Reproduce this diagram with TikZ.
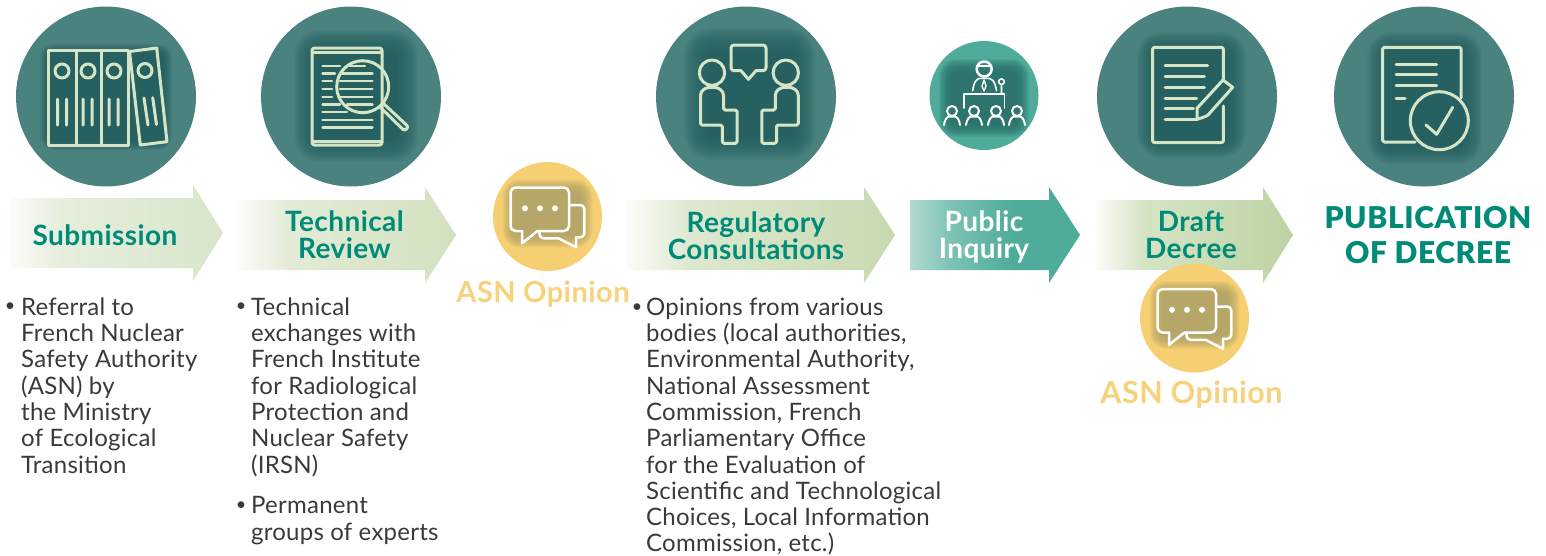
\documentclass[tikz,border=0pt]{standalone}
\usepackage{fontspec}
\setmainfont{Lato}
\newfontfamily\bodyf[LetterSpace=1]{Lato}
\newfontfamily\titlef[LetterSpace=1.5]{Lato}
\newfontfamily\heavyf[LetterSpace=2]{Lato Black}
\definecolor{tealc}{HTML}{4A827F}
\definecolor{tealh}{HTML}{235E5F}
\definecolor{pubc}{HTML}{4FAC9A}
\definecolor{pubh}{HTML}{2A6E68}
\definecolor{yel}{HTML}{F6CF72}
\definecolor{yelh}{HTML}{AFA468}
\definecolor{iconc}{HTML}{D5E5C5}
\definecolor{titlec}{HTML}{008A78}
\definecolor{yeltext}{HTML}{F6D27C}
\definecolor{bodyc}{HTML}{3A3A3A}
\definecolor{startF}{HTML}{FBFCF9}
\definecolor{midA}{HTML}{E6EEDC}\definecolor{endA}{HTML}{D8E5CB}
\definecolor{midB}{HTML}{E2EBD6}\definecolor{endB}{HTML}{D3E1C0}
\definecolor{midC}{HTML}{DDE8CF}\definecolor{endC}{HTML}{C8D9B0}
\definecolor{midD}{HTML}{D6E4C6}\definecolor{endD}{HTML}{BDD3A3}
\definecolor{startE}{HTML}{B4DAD3}\definecolor{midE}{HTML}{7CC2B5}\definecolor{endE}{HTML}{4FAC9A}
\pgfdeclarehorizontalshading{fadeA}{100bp}{color(0bp)=(startF);color(25bp)=(startF);color(37bp)=(midA);color(75bp)=(endA);color(100bp)=(endA)}
\pgfdeclarehorizontalshading{fadeB}{100bp}{color(0bp)=(startF);color(25bp)=(startF);color(37bp)=(midB);color(75bp)=(endB);color(100bp)=(endB)}
\pgfdeclarehorizontalshading{fadeC}{100bp}{color(0bp)=(startF);color(25bp)=(startF);color(37bp)=(midC);color(75bp)=(endC);color(100bp)=(endC)}
\pgfdeclarehorizontalshading{fadeD}{100bp}{color(0bp)=(startF);color(25bp)=(startF);color(37bp)=(midD);color(75bp)=(endD);color(100bp)=(endD)}
\pgfdeclarehorizontalshading{fadeE}{100bp}{color(0bp)=(startE);color(25bp)=(startE);color(37bp)=(midE);color(55bp)=(endE);color(100bp)=(endE)}
\tikzset{
  disc/.style={circle,fill=#1,minimum size=180pt,inner sep=0pt},
  smalldisc/.style={circle,fill=#1,minimum size=109pt,inner sep=0pt},
  icon/.style={draw=iconc,line width=3pt,line cap=round,line join=round},
  iconw/.style={draw=white,line width=2.5pt,line cap=round,line join=round},
  steptitle/.style={font=\titlef\fontsize{28}{27}\selectfont\bfseries,text=titlec,align=center,inner sep=0pt},
  opinion/.style={font=\titlef\fontsize{29}{29}\selectfont\bfseries,text=yeltext,inner sep=0pt},
  bodytext/.style={font=\bodyf\fontsize{24}{26.3}\selectfont,text=bodyc,align=left,inner sep=0pt,anchor=north west},
  bulletmark/.style={font=\fontsize{18}{20}\selectfont,text=bodyc,inner sep=0pt},
}
% #1 colour, #2-#5 box, #6 spread
\newcommand{\glowbox}[6]{%
  \foreach \i in {0,...,15}{
    \pgfmathsetmacro{\d}{#6*(1-\i/15)}
    \pgfmathsetmacro{\rr}{\d+4}
    \fill[#1,opacity=.11,rounded corners=\rr pt] ({#2-\d},{#3-\d}) rectangle ({#4+\d},{#5+\d});
  }}
\newcommand{\steparrow}[6]{% shade, x0, ytop, xhead, xtip, name
  \path[shading=#1,shading angle=0] (#2,#3) -- (#4,#3) -- (#4,#3-13) -- (#5,#3+35) -- (#4,#3+83) -- (#4,#3+70) -- (#2,#3+70) -- cycle;
}
% chat icon around a centre
\newcommand{\chaticon}[2]{%
  \begin{scope}[shift={(#1,#2)}]
    \glowbox{yelh}{-32}{-24}{32}{18}{13}
    \draw[iconw,rounded corners=5pt] (-25.5,14.5) -- (-37,14.5) -- (-37,-29) -- (21.5,-29) -- (21.5,14.5) -- (-10,14.5);
    \draw[iconw] (-25.5,14.5) -- (-25.5,26.8) -- (-10,14.5);
    \draw[iconw,rounded corners=4pt] (21.5,-11.5) -- (36.8,-11.5) -- (36.8,20.8) -- (28.5,20.8);
    \draw[iconw] (28.5,20.8) -- (28.5,30.8) -- (11,21.8);
    \draw[iconw,rounded corners=4pt] (11,21.8) -- (-8,21.8) -- (-8,14.5);
    \fill[white] (-22.5,-8.2) circle (3pt) (-7.5,-8.2) circle (3pt) (7.5,-8.2) circle (3pt);
  \end{scope}}
\begin{document}
\begin{tikzpicture}[x=1pt,y=-1pt]
\useasboundingbox (0,0) rectangle (1546,555);
% arrows
\steparrow{fadeA}{10}{198}{193}{223}{a}
\steparrow{fadeB}{238}{200}{425}{456}{b}
\steparrow{fadeC}{627}{200}{864}{895}{c}
\steparrow{fadeE}{910}{200}{1049}{1080}{d}
\steparrow{fadeD}{1096}{200}{1263}{1293}{e}
% circles
\node[disc=tealc] (c1) at (106,96.5) {};
\node[disc=tealc] (c2) at (351,96.5) {};
\node[disc=tealc] (c3) at (746,96.5) {};
\node[smalldisc=pubc] (c4) at (984,95.5) {};
\node[disc=tealc] (c5) at (1187,96.5) {};
\node[disc=tealc] (c6) at (1424,96.5) {};
\node[smalldisc=yel] (y1) at (547.5,216.5) {};
\node[smalldisc=yel] (y2) at (1194.5,318) {};
% binders
\glowbox{tealh}{50}{54}{162}{140}{10}
\draw[icon] (48.7,50.5) rectangle (128,145) (76,50.5) -- (76,145) (101.5,50.5) -- (101.5,145);
\draw[icon] (129.5,51.5) -- (156.7,48) -- (167,141.7) -- (140.3,145) -- cycle;
\draw[icon] (62,71) circle (7pt) (88,71) circle (7pt) (114,71) circle (7pt) (145,70.5) circle (7pt);
\draw[icon] (57.5,99) -- (57.5,125) (66.5,99) -- (66.5,125) (83,99) -- (83,125) (92,99) -- (92,125) (109,99) -- (109,125) (118,99) -- (118,125) (144,98) -- (148,125) (152.7,97.7) -- (156.5,124.5);
% technical review
\glowbox{tealh}{316}{52}{396}{140}{22}
\draw[icon,rounded corners=2.5pt] (312,48) rectangle (382,145);
\draw[icon] (312.5,52.7) -- (381.5,52.7) (312.5,141.7) -- (381.5,141.7);
\draw[icon,line width=2.4pt] (322.5,65.7) -- (340,65.7) (322.5,73.3) -- (335,73.3) (322.5,81) -- (332,81) (322.5,89) -- (332,89) (322.5,96.7) -- (332,96.7) (322.5,104.3) -- (340,104.3) (322.5,112) -- (347,112) (322.5,119.7) -- (372.5,119.7) (322.5,127.3) -- (372.5,127.3);
\draw[icon,line width=2.4pt] (350,65.7) -- (365,65.7) (342,73.3) -- (372.5,73.3) (340,81) -- (372.5,81) (340,89) -- (372.5,89) (340,96.7) -- (372.5,96.7) (347,104.3) -- (372.5,104.3);
\draw[icon] (362.7,86.7) circle (26pt);
\draw[icon] (380,107) -- (403,129.5) .. controls (405,131) and (409,128) .. (407,125.5) -- (384,104);
% regulatory
\glowbox{tealh}{708}{52}{792}{136}{24}
\draw[icon,rounded corners=3pt] (741,70.7) -- (731,70.7) -- (731,45) -- (766,45) -- (766,70.7) -- (756,70.7);
\draw[icon] (741,70.7) -- (748.4,79.3) -- (756,70.7);
\draw[icon] (712,72.7) circle (12.7pt) (785.8,72.7) circle (12.7pt);
\draw[icon,rounded corners=1.5pt] (700.5,125) -- (700.5,97) .. controls (700.5,90) and (706,87.3) .. (712,87.3) .. controls (718,87.3) and (723.5,90) .. (723.5,97) -- (723.5,110) -- (737,110) -- (737,143.3) -- (722.3,143.3) -- (722.3,125) -- cycle;
\draw[icon,rounded corners=1.5pt] (798.3,125) -- (798.3,97) .. controls (798.3,90) and (792.8,87.3) .. (786.8,87.3) .. controls (780.8,87.3) and (775.3,90) .. (775.3,97) -- (775.3,110) -- (761.8,110) -- (761.8,143.3) -- (776.5,143.3) -- (776.5,125) -- cycle;
% public inquiry
\glowbox{pubh}{952}{72}{1016}{124}{13}
\draw[iconw] (984.2,69) circle (7.5pt);
\draw[iconw,line width=1.6pt] (977,66) -- (991.5,66);
\draw[iconw,line width=1.6pt] (972.7,90.7) .. controls (974,80) and (978,78) .. (981,78.3) -- (987,78.3) .. controls (991,78) and (995,80) .. (996.5,90.7);
\draw[iconw,line width=1.4pt] (984,80) -- (982,86) -- (984,91) -- (986,86) -- cycle;
\draw[iconw,line width=1.6pt] (964,108) -- (964,94) -- (1004.6,94) -- (1004.6,108);
\draw[iconw,line width=1.6pt] (1001.5,81.7) circle (2.8pt) (1001.5,84.5) -- (1001.5,94);
\foreach \hx in {952,974,996,1017}{
  \draw[iconw,line width=2pt] (\hx,111) circle (5pt);
  \draw[iconw,line width=2pt] (\hx-8,125) .. controls (\hx-7,118) and (\hx-4,116.5) .. (\hx-3,116.5) -- (\hx+3,116.5) .. controls (\hx+4,116.5) and (\hx+7,118) .. (\hx+8,125);
}
% draft decree
\glowbox{tealh}{1157}{52}{1226}{138}{20}
\draw[icon,rounded corners=1.5pt] (1223.3,80) -- (1223.3,47.3) -- (1152.7,47.3) -- (1152.7,142.7) -- (1223.3,142.7) -- (1223.3,106);
\draw[icon] (1165,65) -- (1207.7,65) (1165,76) -- (1204.3,76) (1165,87.3) -- (1204.3,87.3) (1165,98) -- (1196.7,98) (1165,108.7) -- (1193.3,108.7) (1165,119.3) -- (1197,119.3);
\draw[icon] (1197,119.3) -- (1197,108.3) -- (1223,80) -- (1232.7,87.3) -- (1208,115) .. controls (1205,117) and (1201,118) .. (1197,119.3);
% publication icon
\glowbox{tealh}{1387}{52}{1462}{144}{20}
\draw[icon,rounded corners=1.5pt] (1461,98) -- (1461,47.3) -- (1382.7,47.3) -- (1382.7,142) -- (1415,142);
\draw[icon] (1396,64) -- (1436.7,64) (1396,74.3) -- (1436.7,74.3) (1396,85) -- (1436.7,85) (1396,98.7) -- (1405,98.7);
\draw[icon] (1439.3,120.7) circle (29pt);
\draw[icon] (1426,125) -- (1436.7,134.3) -- (1452.7,107.3);
% chats
\chaticon{547.5}{216.5}
\chaticon{1194.5}{318}
% titles
\node[steptitle] (t1) at (105,235) {Submission};
\node[steptitle] (t2) at (344.5,234.5) {Technical\\[0pt]Review};
\node[steptitle] (t3) at (756,236) {Regulatory\\[0pt]Consultations};
\node[steptitle,text=white] (t4) at (984,237) {Public\\[0pt]Inquiry};
\node[steptitle] (t5) at (1191,234.5) {Draft\\[0pt]Decree};
\node[font=\heavyf\fontsize{30}{35}\selectfont,text=titlec,align=center,inner sep=0pt] (t6) at (1428,235) {PUBLICATION\\OF DECREE};
\node[opinion] (o1) at (543,294) {ASN Opinion};
\node[opinion,font=\titlef\fontsize{30.5}{30}\selectfont\bfseries] (o2) at (1191.5,395) {ASN Opinion};
% body
\node[bulletmark] (b1) at (10,307) {•};
\node[bodytext] (d1) at (21,297.5) {Referral to\\French Nuclear\\Safety Authority\\(ASN) by\\the Ministry\\of Ecological\\Transition};
\node[bulletmark] (b2) at (241,307) {•};
\node[bodytext] (d2) at (251,297.5) {Technical\\exchanges with\\French Institute\\for Radiological\\Protection and\\Nuclear Safety\\(IRSN)};
\node[bulletmark] (b3) at (241,506) {•};
\node[bodytext] (d3) at (251,496.5) {Permanent\\groups of experts};
\node[bulletmark] (b4) at (637,308) {•};
\node[bodytext] (d4) at (646,297.5) {Opinions from various\\bodies (local authorities,\\Environmental Authority,\\National Assessment\\Commission, French\\Parliamentary Office\\for the Evaluation of\\Scientific and Technological\\Choices, Local Information\\Commission, etc.)};
\end{tikzpicture}
\end{document}
